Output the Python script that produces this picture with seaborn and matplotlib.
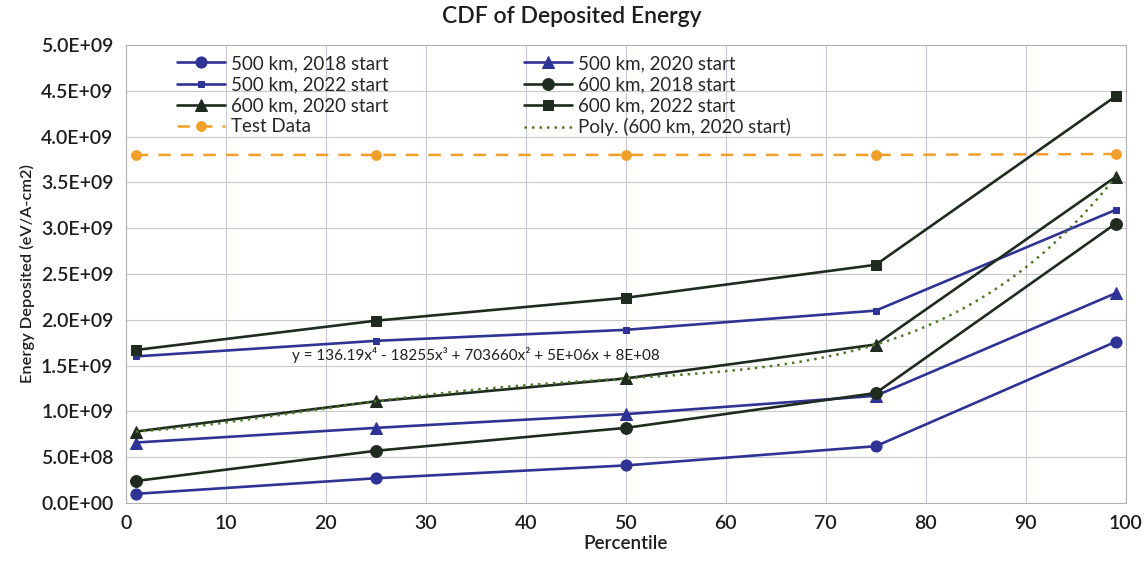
import numpy as np
import pandas as pd
import matplotlib
matplotlib.use("Agg")
import matplotlib.pyplot as plt
from matplotlib.ticker import FuncFormatter, MultipleLocator
import seaborn as sns

percentile = [1, 25, 50, 75, 99]
e500_2018 = [0.10e9, 0.27e9, 0.41e9, 0.62e9, 1.76e9]
e500_2020 = [0.66e9, 0.82e9, 0.97e9, 1.17e9, 2.29e9]
e500_2022 = [1.60e9, 1.77e9, 1.89e9, 2.10e9, 3.20e9]
e600_2018 = [0.24e9, 0.57e9, 0.82e9, 1.20e9, 3.05e9]
e600_2020 = [0.78e9, 1.11e9, 1.36e9, 1.73e9, 3.56e9]
e600_2022 = [1.67e9, 1.99e9, 2.24e9, 2.60e9, 4.44e9]
test_data = [3.80e9, 3.80e9, 3.80e9, 3.80e9, 3.81e9]
equation = "y = 136.19x⁴ - 18255x³ + 703660x² + 5E+06x + 8E+08"
x_ticks = list(range(0, 101, 10))

sns.set_theme(style="white")
plt.rcParams['font.family'] = ['Lato', 'DejaVu Sans']

BLUE = "#2f3394"
DARK = "#1f2b1f"
ORANGE = "#f0a02a"
POLY = "#4f7a2a"
TXT = "#1e1e1e"
W = "semibold"

fig = plt.figure(figsize=(11.44, 5.62), dpi=100)
ax = fig.add_axes([0.110, 0.105, 0.874, 0.815])

series = [
    ("500 km, 2018 start", e500_2018, BLUE, "o", 8),
    ("500 km, 2020 start", e500_2020, BLUE, "^", 8),
    ("500 km, 2022 start", e500_2022, BLUE, "s", 5),
    ("600 km, 2018 start", e600_2018, DARK, "o", 8.5),
    ("600 km, 2020 start", e600_2020, DARK, "^", 8.5),
    ("600 km, 2022 start", e600_2022, DARK, "s", 7.5),
]
handles = {}
for name, vals, col, mk, ms in series:
    df = pd.DataFrame({"p": percentile, "e": vals})
    sns.lineplot(data=df, x="p", y="e", ax=ax, color=col, marker=mk,
                 markersize=ms, markeredgecolor=col, linewidth=1.9, label=name)
    handles[name] = ax.get_lines()[-1]

dft = pd.DataFrame({"p": percentile, "e": test_data})
sns.lineplot(data=dft, x="p", y="e", ax=ax, color=ORANGE, marker="o", markersize=7,
             markeredgecolor=ORANGE, linewidth=1.8, label="Test Data")
ln = ax.get_lines()[-1]
ln.set_dashes([5, 4])
handles["Test Data"] = ln

# polynomial trendline (order 4) of 600 km, 2020 start
coef = np.polyfit(percentile, e600_2020, 4)
xs = np.linspace(percentile[0], percentile[-1], 300)
dfp = pd.DataFrame({"p": xs, "e": np.polyval(coef, xs)})
sns.lineplot(data=dfp, x="p", y="e", ax=ax, color=POLY, linewidth=1.8,
             label="Poly. (600 km, 2020 start)")
lp = ax.get_lines()[-1]
lp.set_linestyle((0, (1, 2)))
handles["Poly. (600 km, 2020 start)"] = lp

ax.set_xlim(0, 100)
ax.set_ylim(0, 5e9)
ax.set_xticks(x_ticks)
ax.yaxis.set_major_locator(MultipleLocator(0.5e9))
ax.yaxis.set_major_formatter(FuncFormatter(lambda v, p: f"{v:.1E}"))
ax.grid(True, axis="y", color="#c9c9c9", linewidth=0.8)
ax.grid(True, axis="x", color="#c6c8e0", linewidth=0.8)
for s in ax.spines.values():
    s.set_color("#b0b0b0")
    s.set_linewidth(0.8)
ax.tick_params(axis="both", labelsize=14, colors=TXT, length=0, pad=9)
for lab in ax.get_xticklabels() + ax.get_yticklabels():
    lab.set_fontweight(W)

ax.set_xlabel("Percentile", fontsize=13.5, color=TXT, labelpad=2, fontweight=W)
ax.set_ylabel("Energy Deposited (eV/A-cm2)", fontsize=11.8, color=TXT, labelpad=4, fontweight=W)
fig.suptitle("CDF of Deposited Energy", fontsize=16.5, color=TXT, y=0.99, fontweight=W)

ax.text(35, 1.62e9, equation, fontsize=11, color=TXT, ha="center", va="center")

order = ["500 km, 2018 start", "500 km, 2022 start", "600 km, 2020 start", "Test Data",
         "500 km, 2020 start", "600 km, 2018 start", "600 km, 2022 start",
         "Poly. (600 km, 2020 start)"]
ax.legend([handles[k] for k in order], order, ncol=2, loc="upper left",
          bbox_to_anchor=(0.034, 1.015), frameon=False,
          prop={"size": 13.5, "family": ["Lato", "DejaVu Sans"]},
          handlelength=2.6, columnspacing=7.2, labelspacing=0.22, handletextpad=0.3)

fig.savefig("out.png", dpi=100)
